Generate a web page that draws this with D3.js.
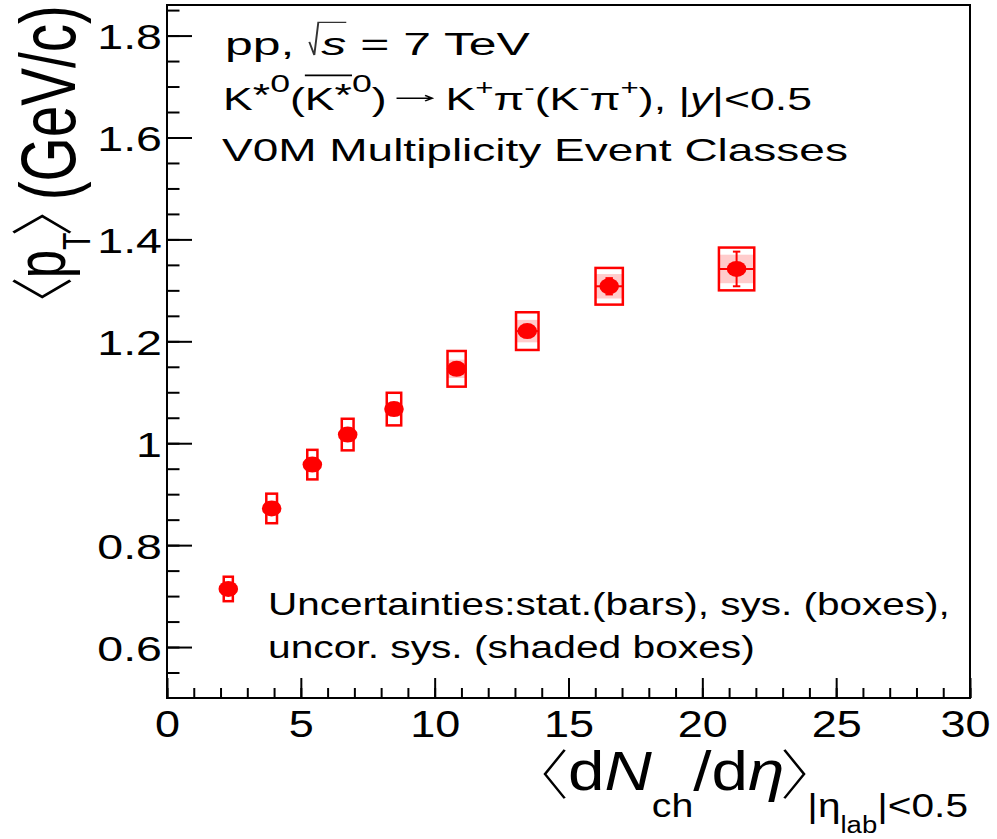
<!DOCTYPE html>
<html>
<head>
<meta charset="utf-8">
<script src="https://cdn.jsdelivr.net/npm/d3@7"></script>
<style>
  html, body { margin: 0; padding: 0; background: #fff; }
  svg { display: block; font-family: "Liberation Sans", Arial, Helvetica, sans-serif; }
  text { white-space: pre; fill: #000; }
</style>
</head>
<body>
<svg id="chart" width="997" height="839"></svg>
<script>
// <dNch/deta> per V0M multiplicity class and its uncertainty (box half-width)
const dNchdEta    = [2.29, 3.91, 5.43, 6.75, 8.48, 10.82, 13.46, 16.52, 21.28];
const dNchdEtaErr = [0.17, 0.20, 0.19, 0.22, 0.27, 0.34, 0.42, 0.51, 0.66];
// K*0 mean pT (GeV/c) with statistical, total systematic and uncorrelated systematic errors
const meanPt      = [0.714, 0.872, 0.958, 1.017, 1.067, 1.146, 1.220, 1.308, 1.342];
const statErr     = [0.004, 0.005, 0.006, 0.007, 0.008, 0.010, 0.012, 0.016, 0.034];
const sysErr      = [0.024, 0.029, 0.029, 0.031, 0.032, 0.035, 0.037, 0.036, 0.042];
const uncorSysErr = [0.010, 0.012, 0.013, 0.014, 0.014, 0.018, 0.022, 0.024, 0.028];

// axis ranges and ticks
const xDomain = [0, 30];
const yDomain = [0.5, 1.86];
const xMajorTicks = [0, 5, 10, 15, 20, 25, 30];
const xMinorTicks = d3.range(0, 31);
const yMajorTicks = [0.6, 0.8, 1.0, 1.2, 1.4, 1.6, 1.8];
const yMinorTicks = d3.range(11, 38).map(i => i * 0.05);
const yTickLabels = ["0.6", "0.8", "1", "1.2", "1.4", "1.6", "1.8"];

const RED = "#ff0000";
const frame = { left: 167, right: 970, top: 5, bottom: 698 };

const svg = d3.select("#chart");
svg.append("rect").attr("width", 997).attr("height", 839).attr("fill", "#fff");

const x = d3.scaleLinear().domain(xDomain).range([frame.left, frame.right]);
const y = d3.scaleLinear().domain(yDomain).range([frame.bottom, frame.top]);

// ---------- axes ----------
function styleAxis(g) {
  g.attr("font-family", null).attr("font-size", null);
  g.select(".domain").remove();
  g.selectAll(".tick line").attr("stroke", "#000").attr("stroke-width", 2);
}

const gxMinor = svg.append("g").attr("transform", `translate(0,${frame.bottom})`)
  .call(d3.axisBottom(x).tickValues(xMinorTicks).tickSize(-10).tickSizeOuter(0).tickFormat(""));
styleAxis(gxMinor);
const gx = svg.append("g").attr("transform", `translate(0,${frame.bottom})`)
  .call(d3.axisBottom(x).tickValues(xMajorTicks).tickSize(-20).tickSizeOuter(0)
        .tickPadding(0).tickFormat(d3.format("d")));
styleAxis(gx);
gx.selectAll(".tick text")
  .attr("y", 0).attr("dy", null)
  .attr("font-size", 36)
  .attr("text-anchor", "middle")
  .attr("transform", d => `translate(${d === 30 ? -5 : 0},39) scale(1.25,1)`);

const gyMinor = svg.append("g").attr("transform", `translate(${frame.left},0)`)
  .call(d3.axisLeft(y).tickValues(yMinorTicks).tickSize(-12.5).tickSizeOuter(0).tickFormat(""));
styleAxis(gyMinor);
const gy = svg.append("g").attr("transform", `translate(${frame.left},0)`)
  .call(d3.axisLeft(y).tickValues(yMajorTicks).tickSize(-25).tickSizeOuter(0)
        .tickPadding(0).tickFormat((d, i) => yTickLabels[i]));
styleAxis(gy);
gy.selectAll(".tick text")
  .attr("x", 0).attr("dy", null)
  .attr("font-size", 35)
  .attr("text-anchor", "end")
  .attr("transform", "translate(-5,13) scale(1.33,1)");

// frame
svg.append("rect")
  .attr("x", frame.left).attr("y", frame.top)
  .attr("width", frame.right - frame.left).attr("height", frame.bottom - frame.top)
  .attr("fill", "none").attr("stroke", "#000").attr("stroke-width", 2);

// ---------- data ----------
const pts = dNchdEta.map((v, i) => ({
  x: v, ex: dNchdEtaErr[i], y: meanPt[i],
  stat: statErr[i], sys: sysErr[i], unc: uncorSysErr[i]
}));
const gd = svg.append("g");

// uncorrelated systematics: shaded boxes
gd.selectAll("rect.unc").data(pts).join("rect").attr("class", "unc")
  .attr("x", d => x(d.x - d.ex)).attr("width", d => x(d.x + d.ex) - x(d.x - d.ex))
  .attr("y", d => y(d.y + d.unc)).attr("height", d => y(d.y - d.unc) - y(d.y + d.unc))
  .attr("fill", "#ffcccc");

// total systematics: open boxes
gd.selectAll("rect.sys").data(pts).join("rect").attr("class", "sys")
  .attr("x", d => x(d.x - d.ex)).attr("width", d => x(d.x + d.ex) - x(d.x - d.ex))
  .attr("y", d => y(d.y + d.sys)).attr("height", d => y(d.y - d.sys) - y(d.y + d.sys))
  .attr("fill", "none").attr("stroke", RED).attr("stroke-width", 2.5);

// horizontal error line
gd.selectAll("line.ex").data(pts).join("line").attr("class", "ex")
  .attr("x1", d => x(d.x - d.ex)).attr("x2", d => x(d.x + d.ex))
  .attr("y1", d => y(d.y)).attr("y2", d => y(d.y))
  .attr("stroke", RED).attr("stroke-width", 2);

// statistical error bars with caps
gd.selectAll("line.stat").data(pts).join("line").attr("class", "stat")
  .attr("x1", d => x(d.x)).attr("x2", d => x(d.x))
  .attr("y1", d => y(d.y + d.stat)).attr("y2", d => y(d.y - d.stat))
  .attr("stroke", RED).attr("stroke-width", 2);
["capHi", "capLo"].forEach((cls, k) => {
  gd.selectAll("line." + cls).data(pts).join("line").attr("class", cls)
    .attr("x1", d => x(d.x) - 3.7).attr("x2", d => x(d.x) + 3.7)
    .attr("y1", d => y(k ? d.y - d.stat : d.y + d.stat))
    .attr("y2", d => y(k ? d.y - d.stat : d.y + d.stat))
    .attr("stroke", RED).attr("stroke-width", 2);
});

// markers
gd.selectAll("ellipse.pt").data(pts).join("ellipse").attr("class", "pt")
  .attr("cx", d => x(d.x)).attr("cy", d => y(d.y))
  .attr("rx", 9.8).attr("ry", 8).attr("fill", RED);

// ---------- rich text helper ----------
// pieces: {t, scale, dy, italic, barStart, barEnd, sqrt}, {chev:'l'|'r', ...}, {arrow, w} or {gapOnly}
function richText(parent, pieces, size) {
  const g = parent.append("g");
  let cx = 0, barX = 0;
  for (const p of pieces) {
    if (p.gapOnly) { cx += p.gapOnly * size; continue; }
    if (p.chev) {
      const w = p.w * size;
      const x0 = p.chev === "l" ? cx + w : cx, x1 = p.chev === "l" ? cx : cx + w;
      g.append("path")
        .attr("d", `M${x0},${p.top * size} L${x1},${p.mid * size} L${x0},${p.bot * size}`)
        .attr("fill", "none").attr("stroke", "#000").attr("stroke-width", p.sw || 2.2);
      cx += w + (p.gap || 0) * size;
      continue;
    }
    if (p.arrow) {
      const w = p.w * size, ay = -0.38 * size;
      g.append("path")
        .attr("d", `M${cx},${ay} L${cx + w},${ay} M${cx + w - 0.16 * size},${ay - 0.09 * size} ` +
                   `L${cx + w},${ay} L${cx + w - 0.16 * size},${ay + 0.09 * size}`)
        .attr("fill", "none").attr("stroke", "#000").attr("stroke-width", 1.4);
      cx += w;
      continue;
    }
    const start = cx;
    if (p.sqrt) cx += 0.26 * size;
    const s = size * (p.scale || 1);
    const t = g.append("text")
      .attr("x", cx).attr("y", (p.dy || 0) * size)
      .attr("font-size", s)
      .attr("font-style", p.italic ? "italic" : "normal")
      .text(p.t);
    const w = t.node().getComputedTextLength();
    if (p.barStart) barX = cx;
    if (p.barEnd) {
      g.append("line").attr("x1", barX).attr("x2", cx + w)
        .attr("y1", -1.12 * size).attr("y2", -1.12 * size)
        .attr("stroke", "#000").attr("stroke-width", 1.8);
    }
    if (p.sqrt) {
      g.append("path")
        .attr("d", `M${start + 0.02 * size},${-0.42 * size} L${start + 0.12 * size},${0.0 * size} ` +
                   `L${start + 0.2 * size},${-1.05 * size} L${cx + w},${-1.05 * size}`)
        .attr("fill", "none").attr("stroke", "#333").attr("stroke-width", 1.2);
    }
    cx += w;
  }
  return { g, width: cx };
}

function placeLine(x0, base, targetW, pieces, size) {
  const outer = svg.append("g").attr("transform", `translate(${x0},${base})`);
  const r = richText(outer, pieces, size);
  r.g.attr("transform", `scale(${targetW / r.width},1)`);
}

const SUP = { scale: 0.8, dy: -0.58 };
const SUPS = { scale: 0.7, dy: -0.5 };

// header
placeLine(225, 55, 305, [
  { t: "pp, " }, { t: "s", italic: true, sqrt: true }, { t: " = 7 TeV" }
], 31);
placeLine(223, 110, 589, [
  { t: "K" }, { t: "*", dy: -0.12 }, { t: "0", ...SUP }, { t: "(" },
  { t: "K", barStart: true }, { t: "*", dy: -0.12, barEnd: true }, { t: "0", ...SUP },
  { t: ")" }, { gapOnly: 0.22 }, { arrow: true, w: 0.8 }, { gapOnly: 0.3 },
  { t: "K" }, { t: "+", ...SUPS }, { t: "\u03c0" }, { t: "-", ...SUPS },
  { t: "(K" }, { t: "-", ...SUPS }, { t: "\u03c0" }, { t: "+", ...SUPS },
  { t: "), |" }, { t: "y", italic: true }, { t: "|<0.5" }
], 31);
placeLine(222, 161, 626, [{ t: "V0M Multiplicity Event Classes" }], 31);

// uncertainty note
placeLine(268, 615, 682, [{ t: "Uncertainties:stat.(bars), sys. (boxes)," }], 31);
placeLine(268, 658, 487, [{ t: "uncor. sys. (shaded boxes)" }], 31);

// x-axis title
placeLine(545, 790, 423, [
  { chev: "l", w: 0.3, top: -0.73, mid: -0.29, bot: 0.15, gap: 0.05 },
  { t: "d" }, { t: "N", italic: true }, { t: "ch", scale: 0.6, dy: 0.49 },
  { t: "/" }, { t: "d" }, { t: "\u03b7", italic: true },
  { chev: "r", w: 0.3, top: -0.73, mid: -0.29, bot: 0.15, gap: 0.05 },
  { t: "|", scale: 0.62, dy: 0.49 }, { t: "\u03b7", scale: 0.62, dy: 0.49 },
  { t: "lab", scale: 0.42, dy: 0.79 }, { t: "|<0.5", scale: 0.62, dy: 0.49 }
], 55);

// y-axis title (rotated)
{
  const outer = svg.append("g").attr("transform", "translate(75,297) rotate(-90)");
  const r = richText(outer, [
    { chev: "l", w: 0.29, top: -0.79, mid: -0.42, bot: -0.06, gap: 0.04 },
    { t: "p", scale: 0.9, dy: -0.13 },
    { t: "T", scale: 0.5, dy: 0.19 },
    { chev: "r", w: 0.29, top: -0.79, mid: -0.42, bot: -0.06, gap: 0.0 },
    { t: " (GeV/c)" }
  ], 52);
  r.g.attr("transform", `scale(${292 / r.width},1.5)`);
}
</script>
</body>
</html>
